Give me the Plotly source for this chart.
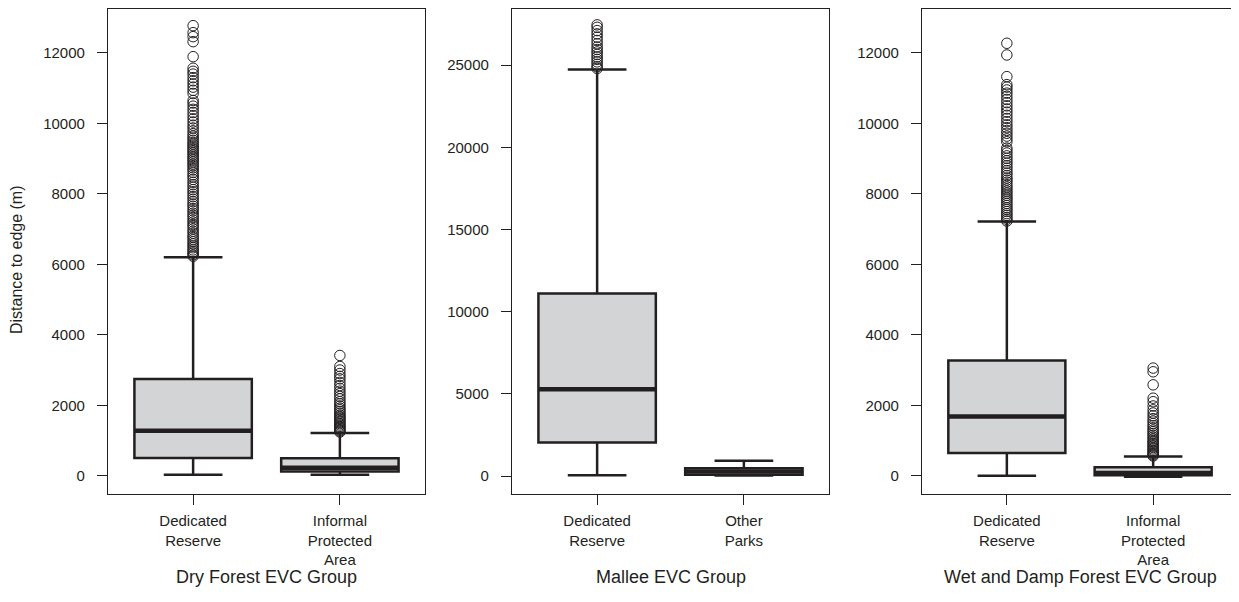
import plotly.graph_objects as go

# ---------------- data ----------------
panel_titles = ["Dry Forest EVC Group", "Mallee EVC Group", "Wet and Damp Forest EVC Group"]
y_title = "Distance to edge (m)"

# Dry Forest
dry_cats = ["Dedicated<br>Reserve", "Informal<br>Protected<br>Area"]
dry_q1 = [500, 122]
dry_median = [1277, 225]
dry_q3 = [2743, 495]
dry_lower = [28, 28]
dry_upper = [6204, 1211]
dry_out_dedicated = [6230, 6270, 6320, 6360, 6410, 6470, 6520, 6580, 6640, 6700, 6760, 6810, 6880,
                     6940, 7010, 7080, 7130, 7200, 7260, 7330, 7390, 7450, 7520, 7580, 7650, 7710,
                     7780, 7850, 7920, 7990, 8060, 8120, 8190, 8260, 8330, 8410, 8480, 8540, 8610,
                     8680, 8740, 8800, 8850, 8910, 8960, 9010, 9060, 9110, 9160, 9210, 9260, 9310,
                     9360, 9410, 9460, 9520, 9580, 9640, 9710, 9790, 9870, 9950, 10040, 10130,
                     10220, 10310, 10400, 10490, 10580, 10650, 10850, 10940, 11030, 11120, 11210,
                     11300, 11400, 11480, 11566, 11895, 12321, 12463, 12576, 12775]
dry_out_informal = [1240, 1270, 1300, 1340, 1370, 1400, 1440, 1480, 1520, 1560, 1600, 1640, 1680,
                    1720, 1770, 1820, 1870, 1920, 1980, 2040, 2100, 2180, 2250, 2330, 2400, 2480,
                    2560, 2650, 2750, 2820, 2900, 3000, 3100, 3413]

# Mallee
mallee_cats = ["Dedicated<br>Reserve", "Other<br>Parks"]
mallee_q1 = [2050, 90]
mallee_median = [5290, 290]
mallee_q3 = [11110, 490]
mallee_lower = [60, 40]
mallee_upper = [24740, 940]
mallee_out_dedicated = [24800, 24900, 25050, 25200, 25350, 25500, 25650, 25800, 25950, 26100,
                        26300, 26500, 26700, 26900, 27100, 27300, 27450]
mallee_out_other = []

# Wet and Damp Forest
wet_cats = ["Dedicated<br>Reserve", "Informal<br>Protected<br>Area"]
wet_q1 = [644, 10]
wet_median = [1683, 76]
wet_q3 = [3271, 241]
wet_lower = [0, -30]
wet_upper = [7215, 548]
wet_out_dedicated = [7230, 7280, 7330, 7390, 7440, 7500, 7560, 7610, 7670, 7730, 7790, 7850, 7900,
                     7960, 8020, 8080, 8140, 8200, 8260, 8330, 8390, 8450, 8520, 8590, 8660, 8730,
                     8800, 8870, 8940, 9010, 9080, 9160, 9230, 9300, 9480, 9560, 9640, 9720, 9800,
                     9880, 9960, 10050, 10140, 10230, 10320, 10410, 10500, 10590, 10680, 10770,
                     10860, 10950, 11030, 11100, 11328, 11943, 12275]
wet_out_informal = [560, 590, 620, 650, 690, 720, 760, 800, 840, 880, 920, 960, 1000, 1050, 1100,
                    1150, 1200, 1250, 1300, 1360, 1420, 1480, 1550, 1620, 1700, 1780, 1870, 1980,
                    2100, 2200, 2580, 2950, 3055]

dry_ticks = [0, 2000, 4000, 6000, 8000, 10000, 12000]
mallee_ticks = [0, 5000, 10000, 15000, 20000, 25000]
wet_ticks = [0, 2000, 4000, 6000, 8000, 10000, 12000]

# ---------------- styling ----------------
INK = "#231f20"
FILL = "#d3d4d6"
FONT = "Liberation Sans, Arial, sans-serif"
BOX_W = 0.8

# the page body has an 8px margin, so the figure is sized to end at the window edge
W, H = 1231, 594
OFF = 8
TOP, BOTTOM = 9 - OFF, 494 - OFF          # plot area top / bottom in figure pixels
PH = BOTTOM - TOP


def dom(x0, x1):
    return [(x0 - OFF) / W, (x1 - OFF) / W]


panels = [
    dict(cats=dry_cats, q1=dry_q1, med=dry_median, q3=dry_q3, lo=dry_lower, hi=dry_upper,
         outs=[dry_out_dedicated, dry_out_informal], ticks=dry_ticks, yr=[-519, 13248],
         dom=dom(108, 425)),
    dict(cats=mallee_cats, q1=mallee_q1, med=mallee_median, q3=mallee_q3, lo=mallee_lower,
         hi=mallee_upper, outs=[mallee_out_dedicated, mallee_out_other], ticks=mallee_ticks,
         yr=[-1082, 28414], dom=dom(512, 829)),
    dict(cats=wet_cats, q1=wet_q1, med=wet_median, q3=wet_q3, lo=wet_lower, hi=wet_upper,
         outs=[wet_out_dedicated, wet_out_informal], ticks=wet_ticks, yr=[-519, 13248],
         dom=dom(922, 1238)),
]

fig = go.Figure()
layout = dict(
    width=W, height=H,
    margin=dict(l=0, r=0, t=TOP, b=H - BOTTOM, autoexpand=False),
    paper_bgcolor="white", plot_bgcolor="white",
    showlegend=False,
    font=dict(family=FONT, color=INK, size=15),
)

annotations = []
for i, p in enumerate(panels):
    n = "" if i == 0 else str(i + 1)
    xa, ya = "x" + n, "y" + n
    positions = list(range(1, len(p["cats"]) + 1))
    for j, pos in enumerate(positions):
        fig.add_trace(go.Box(
            x=[pos], q1=[p["q1"][j]], median=[p["med"][j]], q3=[p["q3"][j]],
            lowerfence=[p["lo"][j]], upperfence=[p["hi"][j]],
            width=BOX_W, whiskerwidth=0.5, fillcolor=FILL,
            line=dict(color=INK, width=2.5), boxpoints=False, hoverinfo="skip",
            xaxis=xa, yaxis=ya,
        ))
        # thick median bar
        fig.add_trace(go.Scatter(
            x=[pos - BOX_W / 2, pos + BOX_W / 2], y=[p["med"][j], p["med"][j]],
            mode="lines", line=dict(color=INK, width=4.5), hoverinfo="skip",
            xaxis=xa, yaxis=ya,
        ))
        if p["outs"][j]:
            fig.add_trace(go.Scatter(
                x=[pos] * len(p["outs"][j]), y=p["outs"][j], mode="markers",
                marker=dict(symbol="circle-open", size=10.5, color=INK, line=dict(width=1)),
                hoverinfo="skip", xaxis=xa, yaxis=ya,
            ))
    axis_common = dict(showline=True, linecolor=INK, linewidth=1.3, mirror=True,
                       ticks="outside", tickcolor=INK, ticklen=10, tickwidth=1.3,
                       showgrid=False, zeroline=False, automargin=False,
                       tickfont=dict(family=FONT, size=15, color=INK))
    layout["xaxis" + n] = dict(axis_common, domain=p["dom"], range=[0.42, len(positions) + 0.58],
                               tickvals=positions, ticktext=p["cats"], anchor=ya,
                               ticklabelstandoff=3)
    layout["yaxis" + n] = dict(axis_common, domain=[0, 1], range=p["yr"], tickvals=p["ticks"],
                               ticktext=[str(t) for t in p["ticks"]], anchor=xa,
                               ticklabelstandoff=9)
    annotations.append(dict(
        text=panel_titles[i], xref="paper", yref="paper",
        x=(p["dom"][0] + p["dom"][1]) / 2, y=(BOTTOM - (577 - OFF)) / PH,
        xanchor="center", yanchor="middle", showarrow=False,
        font=dict(family=FONT, size=18, color=INK),
    ))

annotations.append(dict(
    text=y_title, xref="paper", yref="paper", x=(17 - OFF) / W, y=(BOTTOM - (260 - OFF)) / PH,
    xanchor="center", yanchor="middle", textangle=-90, showarrow=False,
    font=dict(family=FONT, size=16, color=INK),
))
layout["annotations"] = annotations
fig.update_layout(**layout)
fig.write_html("out.html")
